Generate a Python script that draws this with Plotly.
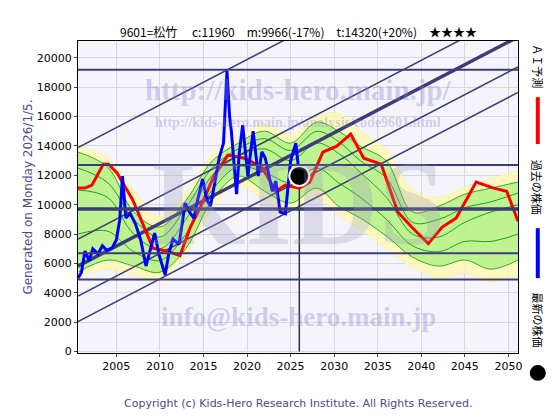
import plotly.graph_objects as go

# past price (blue)
price_years = [2000.6, 2001.0, 2001.4, 2001.9, 2002.3, 2002.9, 2003.4, 2003.9, 2004.5, 2005.0, 2005.4, 2005.7,
               2006.1, 2006.6, 2007.2, 2007.8, 2008.4, 2008.9, 2009.4, 2009.9, 2010.6, 2011.0, 2011.5, 2012.2,
               2012.9, 2013.4, 2013.9, 2014.4, 2014.9, 2015.4, 2015.8, 2016.3, 2016.8, 2017.3, 2017.7, 2018.0,
               2018.2, 2018.8, 2019.1, 2019.5, 2020.1, 2020.7, 2021.3, 2021.7, 2022.1, 2022.9, 2023.3, 2023.8,
               2024.4, 2025.0, 2025.6, 2026.0]
price = [5000, 5400, 6840, 6200, 7000, 6640, 7200, 6900, 7040, 7600, 9000, 11950,
         9090, 9400, 8680, 7600, 5820, 7000, 8070, 6600, 5210, 6600, 7660, 7300,
         10110, 9500, 9090, 10500, 11740, 10300, 9900, 11500, 13170, 14200, 19100, 16000,
         15010, 10720, 13500, 15420, 11950, 15010, 11950, 13600, 13170, 10920, 11600, 9500,
         9390, 12970, 14190, 11960]

# AI forecast (red)
ai_years = [2000.6, 2001.4, 2002.2, 2003.5, 2004.1, 2005.1, 2006.9, 2008.0, 2009.2, 2010.8, 2012.3, 2013.5,
            2014.7, 2016.2, 2017.8, 2019.7, 2021.7, 2023.3, 2024.4, 2026.0, 2027.2, 2028.7, 2030.3, 2031.9,
            2033.4, 2035.4, 2037.3, 2038.9, 2040.8, 2042.4, 2044.0, 2046.3, 2048.3, 2049.8, 2051.1]
ai = [11130, 11130, 11330, 12760, 12760, 12150, 10310, 8680, 7040, 6840, 6530, 8480,
      9900, 11950, 13380, 13170, 12560, 10920, 11330, 11130, 11540, 13580, 13990, 14810,
      13170, 12760, 9500, 8480, 7350, 8480, 9090, 11540, 11130, 10920, 8880]

# forecast band
band_years = [2000.6, 2004, 2007, 2010, 2013, 2016, 2019, 2022, 2025, 2028, 2030.5, 2033, 2036, 2039,
              2042, 2045, 2048, 2051.1]
green_hi = [13580, 12560, 9500, 8480, 10310, 12970, 14190, 15010, 14190, 15620, 15010, 13990, 12970, 9500,
            9900, 10720, 11130, 11540]
green_lo = [5400, 6230, 5820, 5400, 7040, 10310, 11950, 10920, 10110, 11130, 9900, 9090, 7860, 6430,
            5820, 6230, 5610, 6230]
yellow_hi = [14000, 13200, 11000, 9200, 10800, 13400, 14600, 15500, 14800, 16000, 16240, 15000, 13800, 11000,
             10500, 11200, 11800, 12300]
yellow_lo = [5000, 5600, 5200, 4900, 6600, 9800, 11300, 10300, 9500, 10400, 9300, 8300, 7000, 5700,
             5000, 5300, 4700, 5200]
green_a = [11000, 10500, 8000, 7000, 9000, 12000, 13300, 13800, 13000, 14200, 13500, 12200, 10500, 8000,
           7800, 8800, 9500, 10000]
green_b = [8000, 8200, 6800, 6200, 8000, 11000, 12600, 12200, 11500, 12500, 11500, 10500, 9000, 7200,
           6800, 7500, 7500, 8000]
green_c = [12500, 11500, 9000, 7800, 9800, 12500, 13800, 14500, 13700, 15000, 14300, 13000, 11800, 8800,
           9000, 9800, 10200, 10800]

h_levels = [19200, 12700, 9700, 6700, 4900]
h_widths = [2, 2, 3.5, 2, 2]
trend_start, trend_slope = 5820, 309
trend_offsets = [8070, 1840, 0, -2040, -3780]
latest_year, latest_price = 2026, 11960

fig = go.Figure()
fig.add_trace(go.Scatter(x=band_years, y=yellow_lo, mode="lines", line=dict(color="#ecec9a", width=0.5), line_shape="spline"))
fig.add_trace(go.Scatter(x=band_years, y=yellow_hi, mode="lines", fill="tonexty", fillcolor="rgba(255,250,175,0.8)",
                         line=dict(color="#ecec9a", width=0.5), line_shape="spline"))
fig.add_trace(go.Scatter(x=band_years, y=green_lo, mode="lines", line=dict(color="#33aa22", width=1), line_shape="spline"))
fig.add_trace(go.Scatter(x=band_years, y=green_hi, mode="lines", fill="tonexty", fillcolor="rgba(170,240,130,0.75)",
                         line=dict(color="#33aa22", width=1), line_shape="spline"))
for g in (green_a, green_b, green_c):
    fig.add_trace(go.Scatter(x=band_years, y=g, mode="lines", line=dict(color="#22a022", width=1), line_shape="spline"))

x0, x1 = 2000.6, 2051.1
for off in trend_offsets:
    fig.add_trace(go.Scatter(x=[x0, x1], y=[trend_start + off, trend_start + off + trend_slope * (x1 - x0)],
                             mode="lines", line=dict(color="#3c3c78", width=3.5 if off == 0 else 1.5)))
for lv, w in zip(h_levels, h_widths):
    fig.add_hline(y=lv, line=dict(color="#3c3c78", width=w))
fig.add_trace(go.Scatter(x=[latest_year, latest_year], y=[0, latest_price], mode="lines", line=dict(color="#333", width=1.5)))

fig.add_trace(go.Scatter(x=ai_years, y=ai, mode="lines", line=dict(color="#ff0000", width=3)))
fig.add_trace(go.Scatter(x=price_years, y=price, mode="lines", line=dict(color="#0000ff", width=3)))
fig.add_trace(go.Scatter(x=[latest_year], y=[latest_price], mode="markers",
                         marker=dict(color="black", size=20, line=dict(color="white", width=2))))

wm = "rgba(130,130,210,0.35)"
anns = [
    dict(x=0.5, y=0.9, text="<b>http://kids-hero.main.jp/</b>", font=dict(size=29, color=wm, family="Liberation Serif")),
    dict(x=0.5, y=0.77, text="<b>http://kids-hero.main.jp/analysis/code9601.html</b>", font=dict(size=14, color=wm, family="Liberation Serif")),
    dict(x=0.5, y=0.48, text="<b>KIDS</b>", font=dict(size=120, color="rgba(150,150,185,0.28)", family="Liberation Serif")),
    dict(x=0.5, y=0.06, text="<b>info@kids-hero.main.jp</b>", font=dict(size=27, color=wm, family="Liberation Serif")),
]
for a in anns:
    fig.add_annotation(xref="paper", yref="paper", showarrow=False, **a)

fig.add_annotation(xref="paper", yref="paper", x=-0.135, y=0.5, text="Generated on Monday 2026/1/5.", textangle=-90,
                   showarrow=False, font=dict(size=12, color="#4a4a8c"))
fig.add_annotation(xref="paper", yref="paper", x=0.5, y=-0.19, text="Copyright (c) Kids-Hero Research Institute. All Rights Reserved.",
                   showarrow=False, font=dict(size=11, color="#4a4a8c"))
fig.add_annotation(xref="paper", yref="paper", x=0.5, y=1.065, text="9601=松竹　 c:11960　m:9966(-17%)　t:14320(+20%)　★★★★",
                   showarrow=False, font=dict(size=12, color="black", family="Noto Sans CJK JP"))
for y, txt in [(0.92, "ＡＩ予測"), (0.53, "過去の株価"), (0.105, "最新の株価")]:
    fig.add_annotation(xref="paper", yref="paper", x=1.045, y=y, text=txt, textangle=90, showarrow=False,
                       xanchor="center", yanchor="middle", font=dict(size=11, color="black", family="Noto Sans CJK JP"))
fig.add_shape(type="line", xref="paper", yref="paper", x0=1.045, x1=1.045, y0=0.67, y1=0.82, line=dict(color="red", width=4))
fig.add_shape(type="line", xref="paper", yref="paper", x0=1.045, x1=1.045, y0=0.24, y1=0.40, line=dict(color="blue", width=4))
fig.add_shape(type="circle", xref="paper", yref="paper", x0=1.029, x1=1.061, y0=-0.086, y1=-0.042, fillcolor="black", line=dict(color="black"))

fig.update_layout(
    width=560, height=420, margin=dict(l=70, r=50, t=33, b=75),
    showlegend=False, paper_bgcolor="white", plot_bgcolor="#f6f4fb",
    font=dict(family="DejaVu Sans", size=11, color="black"),
)
fig.update_xaxes(range=[x0, x1], tickvals=list(range(2005, 2051, 5)), gridcolor="#d8d8d8",
                 showline=True, linecolor="black", mirror=True, ticks="outside", ticklen=3, zeroline=False)
fig.update_yaxes(range=[-100, 21150], dtick=2000, tickformat="d", gridcolor="#d8d8d8", showline=True, linecolor="black",
                 mirror=True, ticks="outside", ticklen=3, zeroline=False)
fig.write_html("out.html")
